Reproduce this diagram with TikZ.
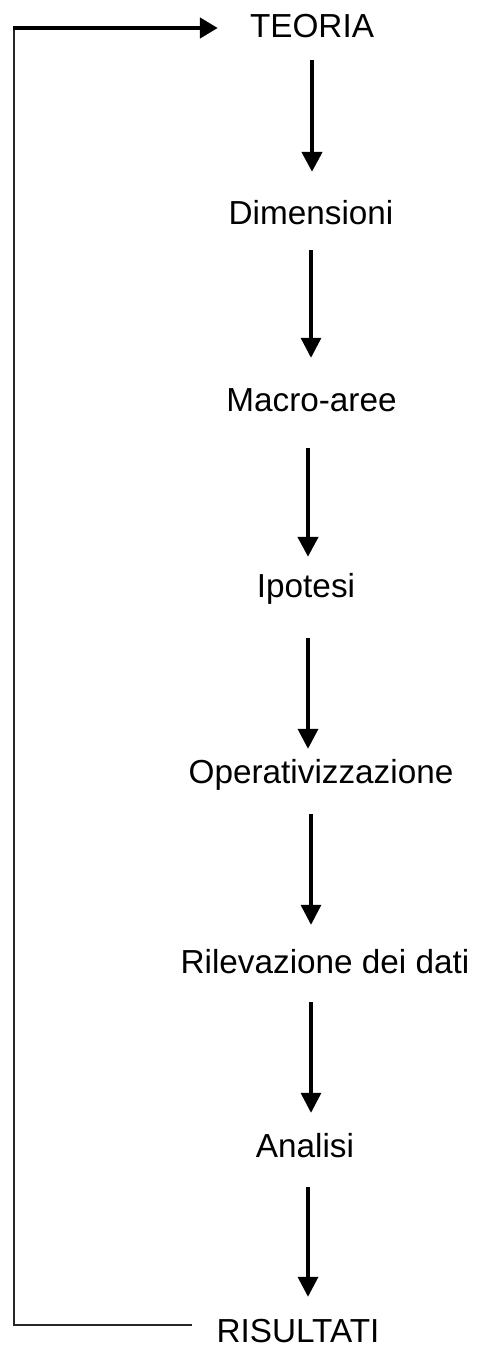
\documentclass[tikz,border=0pt]{standalone}
\usepackage{fontspec}
\setmainfont{Liberation Sans}
\usetikzlibrary{arrows.meta}
\tikzset{
  lbl/.style={anchor=base, inner sep=0pt, text height=24pt, text depth=7pt,
    font=\fontsize{33.3}{40}\selectfont},
  arr/.style={draw=black, -{Triangle[width=20pt,length=20pt]}},
  loopline/.style={draw=black!85, line width=1.8pt},
}
\begin{document}
\begin{tikzpicture}[x=1pt,y=-1pt]
\useasboundingbox (0,0) rectangle (478,1348);
\node[lbl] (T) at (312,38) {TEORIA};
\node[lbl] (D) at (311,225) {Dimensioni};
\node[lbl] (M) at (311.5,411) {Macro-aree};
\node[lbl] (I) at (306,597) {Ipotesi};
\node[lbl] (O) at (321,783) {Operativizzazione};
\node[lbl] (R) at (325,973) {Rilevazione dei dati};
\node[lbl] (A) at (305,1157) {Analisi};
\node[lbl, text depth=0pt] (S) at (298,1342) {RISULTATI};
% arrow axes
\coordinate (x1) at (312,0);
\coordinate (x2) at (311,0);
\coordinate (x3) at (308,0);
\coordinate (x4) at (308,0);
\coordinate (x5) at (311,0);
\coordinate (x6) at (311,0);
\coordinate (x7) at (308,0);
\draw[arr, line width=4.5pt, shorten <=15pt, shorten >=29pt] (T.south -| x1) -- (D.north -| x1);
\draw[arr, line width=3.2pt, shorten <=18pt, shorten >=29pt] (D.south -| x2) -- (M.north -| x2);
\draw[arr, line width=4.5pt, shorten <=30pt, shorten >=16pt] (M.south -| x3) -- (I.north -| x3);
\draw[arr, line width=3.6pt, shorten <=34pt, shorten >=10pt] (I.south -| x4) -- (O.north -| x4);
\draw[arr, line width=3.2pt, shorten <=24pt, shorten >=24pt] (O.south -| x5) -- (R.north -| x5);
\draw[arr, line width=3.2pt, shorten <=22pt, shorten >=20pt] (R.south -| x6) -- (A.north -| x6);
\draw[arr, line width=3.5pt, shorten <=23pt, shorten >=21pt] (A.south -| x7) -- (S.north -| x7);
% feedback loop
\coordinate (c1) at (14,1325);
\coordinate (c2) at (14,28);
\coordinate (c3) at (192,1325);
\draw[loopline] (c3) -- (c1) -- ([yshift=-1pt]c2);
\draw[draw=black, line width=4.5pt, -{Triangle[width=20pt,length=18pt]}, shorten >=32pt]
  ([xshift=-1pt]c2) -- (T.west |- c2);
\end{tikzpicture}
\end{document}
